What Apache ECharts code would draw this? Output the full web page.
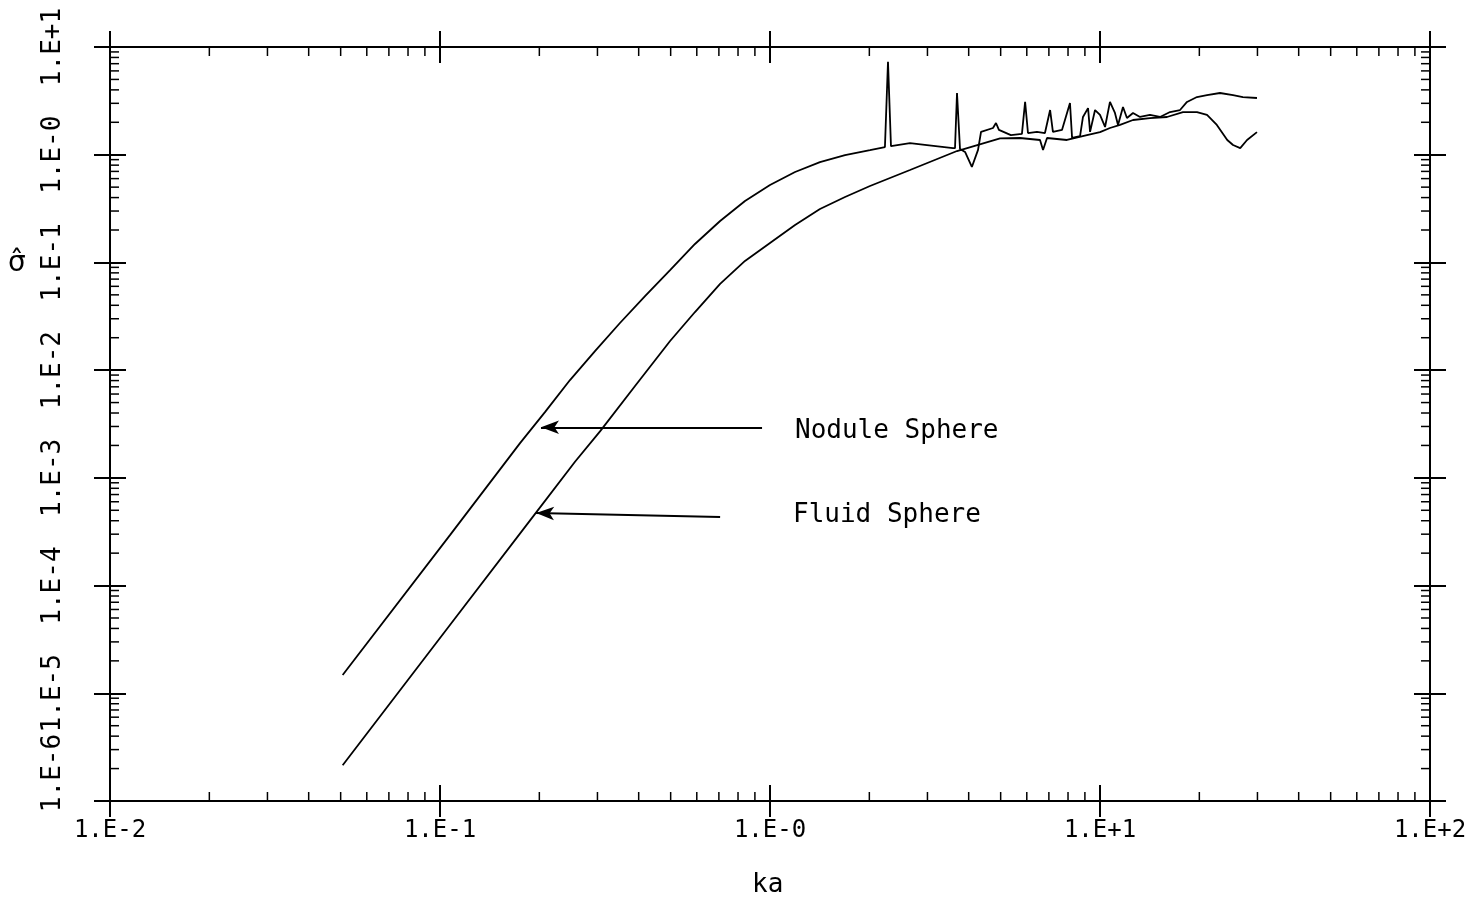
<!DOCTYPE html>
<html>
<head>
<meta charset="utf-8">
<script src="https://cdn.jsdelivr.net/npm/echarts@6/dist/echarts.min.js"></script>
<style>
  html, body { margin: 0; padding: 0; background: #fff; }
  #main { width: 1483px; height: 909px; }
</style>
</head>
<body>
<div id="main"></div>
<script>
// ka values and sigma values
var noduleKa = [0.0507, 0.1072, 0.1748, 0.208, 0.2477, 0.2949, 0.351, 0.4181, 0.498, 0.5925, 0.706,
    0.8399, 1.0, 1.191, 1.417, 1.688, 2.009, 2.23,
    2.246, 2.278, 2.326, 2.656, 2.99, 3.585, 3.636, 3.687, 3.765, 3.90, 4.09, 4.27, 4.36, 4.74,
    4.84, 4.94, 5.37, 5.80, 5.93, 6.05, 6.44, 6.81, 7.06, 7.20, 7.67, 8.11, 8.23, 8.70, 8.88,
    9.20, 9.33, 9.66, 10.0, 10.36, 10.72, 11.1, 11.34, 11.74, 12.07, 12.59, 13.22, 14.17, 15.2,
    16.3, 17.48, 18.35, 19.67, 21.1, 23.1, 25.3, 27.1, 29.9];
var noduleSigma = [1.48e-5, 2.94e-4, 2.10e-3, 4.08e-3, 8.09e-3, 0.01503, 0.0274, 0.04875, 0.085, 0.1483, 0.2424,
    0.3716, 0.5233, 0.691, 0.855, 0.9936, 1.105, 1.179,
    1.18, 7.3, 1.2, 1.28, 1.23, 1.15, 1.15, 3.74, 1.13, 1.06, 0.77, 1.11, 1.63, 1.77,
    1.97, 1.70, 1.52, 1.56, 3.09, 1.59, 1.63, 1.59, 2.60, 1.63, 1.70, 3.02, 1.43, 1.49, 2.24,
    2.71, 1.63, 2.60, 2.34, 1.81, 3.09, 2.44, 1.89, 2.77, 2.19, 2.44, 2.24, 2.34, 2.24,
    2.49, 2.60, 3.09, 3.43, 3.58, 3.74, 3.58, 3.43, 3.36];

var fluidKa = [0.0507, 0.1072, 0.1913, 0.2565, 0.3054, 0.39, 0.498, 0.5925, 0.706, 0.8399, 1.0,
    1.191, 1.417, 1.688, 2.009, 2.656, 3.687, 4.98, 5.72, 6.58, 6.72, 6.91, 7.94, 9.13, 10.0,
    10.72, 11.5, 12.59, 14.17, 15.96, 17.84, 19.67, 21.1, 22.6, 24.3, 25.3, 26.6, 27.9, 29.9];
var fluidSigma = [2.15e-6, 4.3e-5, 4.37e-4, 1.41e-3, 2.70e-3, 7.12e-3, 0.01863, 0.03463, 0.0632, 0.1033, 0.1514,
    0.2224, 0.3131, 0.4047, 0.5123, 0.721, 1.082, 1.42, 1.43, 1.37, 1.106, 1.43, 1.37, 1.52, 1.62,
    1.77, 1.89, 2.10, 2.19, 2.24, 2.49, 2.49, 2.34, 1.89, 1.37, 1.23, 1.153, 1.37, 1.62];

// arrows pointing at the curves: [start, end] in data units
var noduleArrow = [[0.946, 0.00295], [0.2023, 0.00295]];
var fluidArrow = [[0.706, 0.000433], [0.1955, 0.000471]];

var xTickLabels = ['1.E-2', '1.E-1', '1.E-0', '1.E+1', '1.E+2'];
var yTickLabels = ['1.E-6', '1.E-5', '1.E-4', '1.E-3', '1.E-2', '1.E-1', '1.E-0', '1.E+1'];
var xMin = 0.01, xMax = 100, yMin = 1e-6, yMax = 10;
var minorSteps = [2, 3, 4, 5, 6, 7, 8, 9];

function zip(a, b) {
    var out = [];
    for (var i = 0; i < a.length; i++) out.push([a[i], b[i]]);
    return out;
}
function minorValues(lo, hi) {
    var out = [];
    for (var d = lo; d < hi; d *= 10) {
        minorSteps.forEach(function (s) { out.push(s * d); });
    }
    return out;
}

var mono = '"DejaVu Sans Mono", monospace';
var black = '#000';

function xAx(pos, inside, labels) {
    return {
        type: 'log', min: xMin, max: xMax, position: pos, splitNumber: 4,
        axisLine: { show: true, lineStyle: { color: black, width: 2 } },
        axisTick: { show: true, inside: inside, length: 16, lineStyle: { color: black, width: 2 } },
        axisLabel: {
            show: labels, margin: 18, color: black, fontSize: 24, fontFamily: mono,
            formatter: function (v) { return xTickLabels[Math.round(Math.log10(v)) + 2]; }
        },
        splitLine: { show: false }
    };
}
function yAx(pos, inside, labels) {
    return {
        type: 'log', min: yMin, max: yMax, position: pos, splitNumber: 8,
        axisLine: { show: true, lineStyle: { color: black, width: 2 } },
        axisTick: { show: true, inside: inside, length: 16, lineStyle: { color: black, width: 2 } },
        axisLabel: {
            show: labels, showMinLabel: true, margin: 44, rotate: 90, color: black, fontSize: 26, fontFamily: mono,
            formatter: function (v) {
                var i = Math.round(Math.log10(v)) + 6;
                // lowest label sits above the x axis line
                return i === 0 ? '{lo|' + yTickLabels[i] + '}' : yTickLabels[i];
            },
            rich: { lo: { fontSize: 26, fontFamily: mono, color: black, padding: [0, 0, 0, 56] } }
        },
        splitLine: { show: false }
    };
}

var chart = echarts.init(document.getElementById('main'));

var option = {
    animation: false,
    backgroundColor: '#fff',
    grid: { left: 110, right: 53, top: 47, bottom: 108 },
    xAxis: [xAx('bottom', false, true), xAx('bottom', true, false), xAx('top', true, false), xAx('top', false, false)],
    yAxis: [yAx('left', false, true), yAx('left', true, false), yAx('right', true, false), yAx('right', false, false)],
    graphic: [
        { type: 'text', left: 8, top: 250, style: { text: 'σ̂', font: '28px "DejaVu Sans"', fill: black } },
        { type: 'text', left: 752, top: 872, style: { text: 'ka', font: '26px ' + mono, fill: black } },
        { type: 'text', left: 795, top: 418, style: { text: 'Nodule Sphere', font: '26px ' + mono, fill: black } },
        { type: 'text', left: 793, top: 502, style: { text: 'Fluid Sphere', font: '26px ' + mono, fill: black } }
    ],
    series: [
        {
            name: 'Nodule Sphere', type: 'line', showSymbol: false, silent: true,
            data: zip(noduleKa, noduleSigma),
            lineStyle: { color: black, width: 1.8 },
            markLine: {
                silent: true, symbol: ['none', 'arrow'], symbolSize: [10, 18],
                label: { show: false }, lineStyle: { color: black, width: 2, type: 'solid' },
                data: [[{ coord: noduleArrow[0] }, { coord: noduleArrow[1] }]]
            }
        },
        {
            name: 'Fluid Sphere', type: 'line', showSymbol: false, silent: true,
            data: zip(fluidKa, fluidSigma),
            lineStyle: { color: black, width: 1.8 },
            markLine: {
                silent: true, symbol: ['none', 'arrow'], symbolSize: [10, 18],
                label: { show: false }, lineStyle: { color: black, width: 2, type: 'solid' },
                data: [[{ coord: fluidArrow[0] }, { coord: fluidArrow[1] }]]
            }
        },
        {
            // minor ticks on bottom and top
            type: 'custom', silent: true,
            data: minorValues(xMin, xMax).map(function (v) { return [v, yMin]; }),
            renderItem: function (params, api) {
                var v = api.value(0);
                var b = api.coord([v, yMin]), t = api.coord([v, yMax]);
                var st = { stroke: black, lineWidth: 1.5 };
                return { type: 'group', children: [
                    { type: 'line', shape: { x1: b[0], y1: b[1], x2: b[0], y2: b[1] - 9 }, style: st },
                    { type: 'line', shape: { x1: t[0], y1: t[1], x2: t[0], y2: t[1] + 9 }, style: st }
                ] };
            }
        },
        {
            // minor ticks on left and right
            type: 'custom', silent: true,
            data: minorValues(yMin, yMax).map(function (v) { return [xMin, v]; }),
            renderItem: function (params, api) {
                var v = api.value(1);
                var l = api.coord([xMin, v]), r = api.coord([xMax, v]);
                var st = { stroke: black, lineWidth: 1.5 };
                return { type: 'group', children: [
                    { type: 'line', shape: { x1: l[0], y1: l[1], x2: l[0] + 9, y2: l[1] }, style: st },
                    { type: 'line', shape: { x1: r[0], y1: r[1], x2: r[0] - 9, y2: r[1] }, style: st }
                ] };
            }
        }
    ]
};
chart.setOption(option);
</script>
</body>
</html>
